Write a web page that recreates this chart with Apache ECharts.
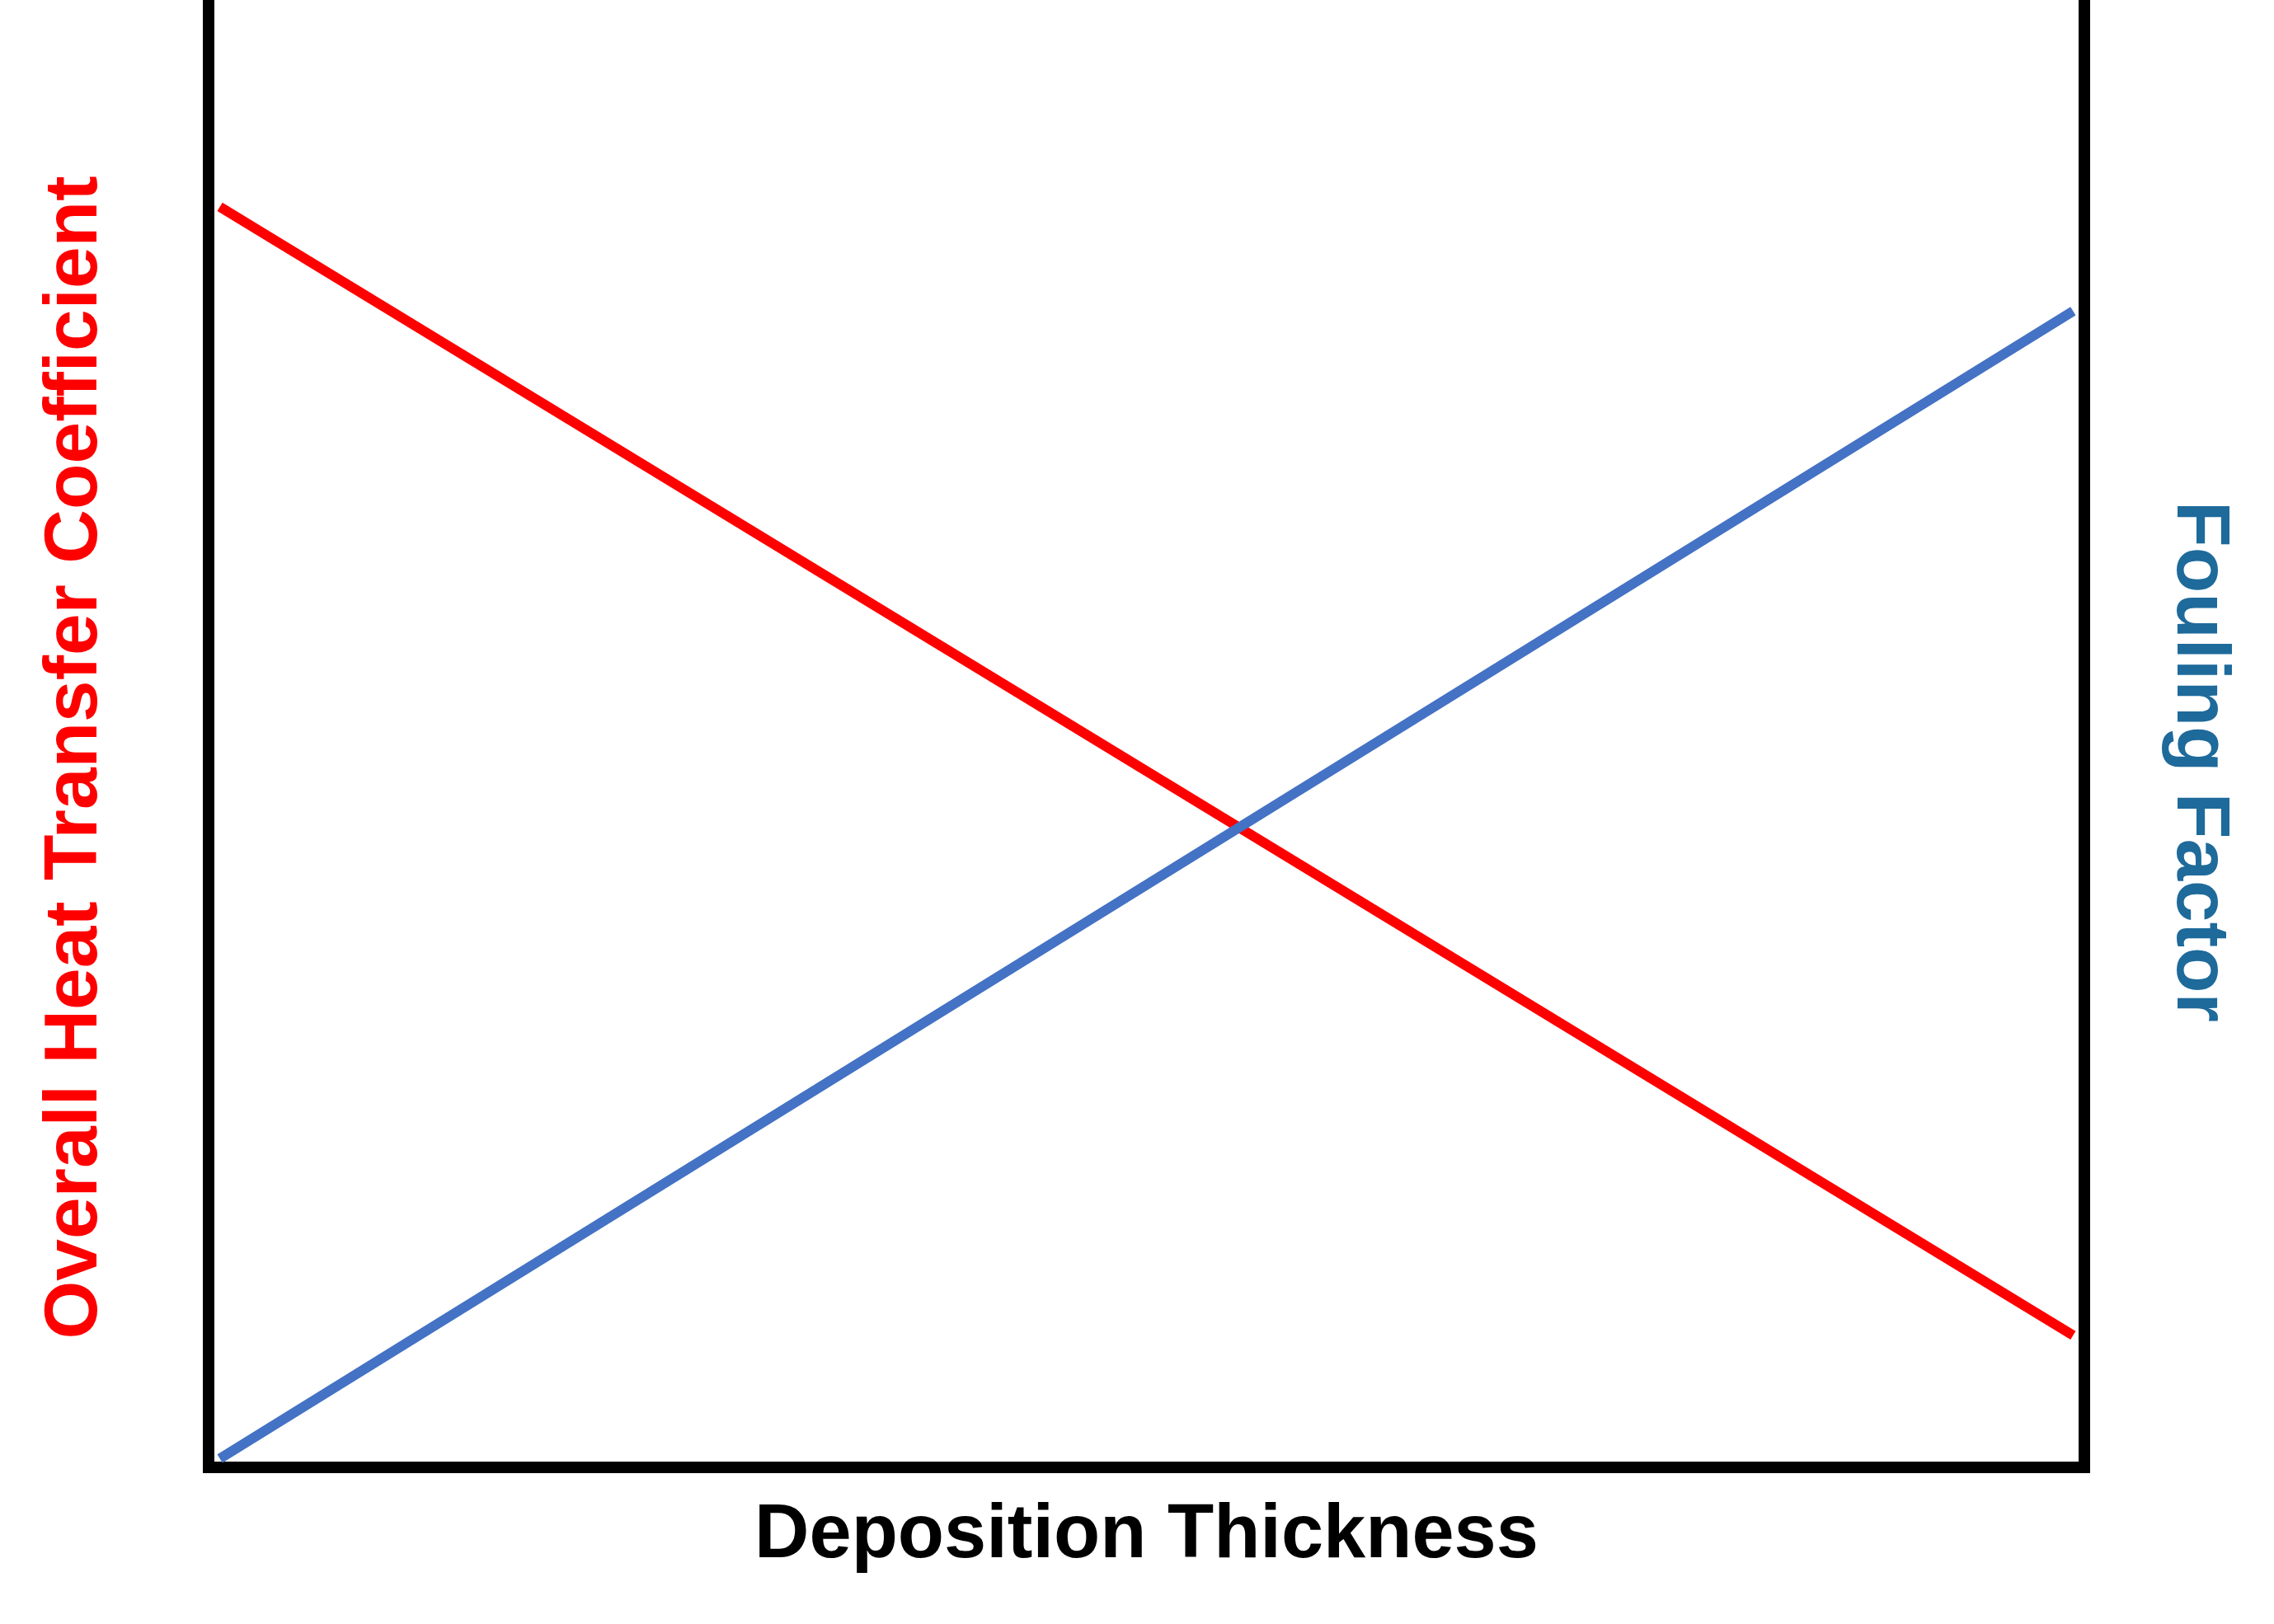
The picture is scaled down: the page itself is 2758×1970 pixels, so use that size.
<!DOCTYPE html>
<html>
<head>
<meta charset="utf-8">
<script src="https://cdn.jsdelivr.net/npm/echarts@6/dist/echarts.min.js"></script>
<style>html,body{margin:0;padding:0;background:#fff;}#c{width:2758px;height:1970px;}</style>
</head>
<body>
<div id="c"></div>
<script>
// Deposition thickness (relative, 0-100) at the two ends of each line
const thickness = [0.6, 99.4];
// Overall heat transfer coefficient (relative, left axis)
const heatTransfer = [85.9, 9.0];
// Fouling factor (relative, right axis)
const foulingFactor = [0.6, 78.8];

const xName = 'Deposition Thickness';
const yLeftName = 'Overall Heat Transfer Coefficient';
const yRightName = 'Fouling Factor';

const pairs = (xs, ys) => xs.map((x, i) => [x, ys[i]]);

const chart = echarts.init(document.getElementById('c'), null, {renderer: 'canvas'});
const font = '"Liberation Sans", Arial, sans-serif';
const axisLine = {show: true, lineStyle: {color: '#000', width: 14, cap: 'square'}};
chart.setOption({
  animation: false,
  backgroundColor: '#fff',
  grid: {left: 253, right: 230, top: 0, bottom: 190},
  xAxis: {
    type: 'value', min: 0, max: 100,
    axisLine: axisLine, axisTick: {show: false}, axisLabel: {show: false}, splitLine: {show: false},
    name: xName, nameLocation: 'middle', nameGap: 38,
    nameTextStyle: {fontFamily: font, fontWeight: 'bold', fontSize: 92, color: '#000'}
  },
  yAxis: [{
    type: 'value', min: 0, max: 100, position: 'left',
    axisLine: axisLine, axisTick: {show: false}, axisLabel: {show: false}, splitLine: {show: false},
    name: yLeftName, nameLocation: 'middle', nameGap: 116, nameRotate: 90,
    nameTextStyle: {fontFamily: font, fontWeight: 'bold', fontSize: 91, color: '#FF0000', padding: [0, 58, 0, 0]}
  }, {
    type: 'value', min: 0, max: 100, position: 'right',
    axisLine: axisLine, axisTick: {show: false}, axisLabel: {show: false}, splitLine: {show: false},
    name: yRightName, nameLocation: 'middle', nameGap: 93, nameRotate: -90,
    nameTextStyle: {fontFamily: font, fontWeight: 'bold', fontSize: 91, color: '#1E6A9B', padding: [0, 0, 0, 68]}
  }],
  series: [{
    type: 'line', yAxisIndex: 0, data: pairs(thickness, heatTransfer),
    showSymbol: false, lineStyle: {color: '#FF0000', width: 12}
  }, {
    type: 'line', yAxisIndex: 1, data: pairs(thickness, foulingFactor),
    showSymbol: false, lineStyle: {color: '#4472C4', width: 12}
  }]
});
</script>
</body>
</html>
